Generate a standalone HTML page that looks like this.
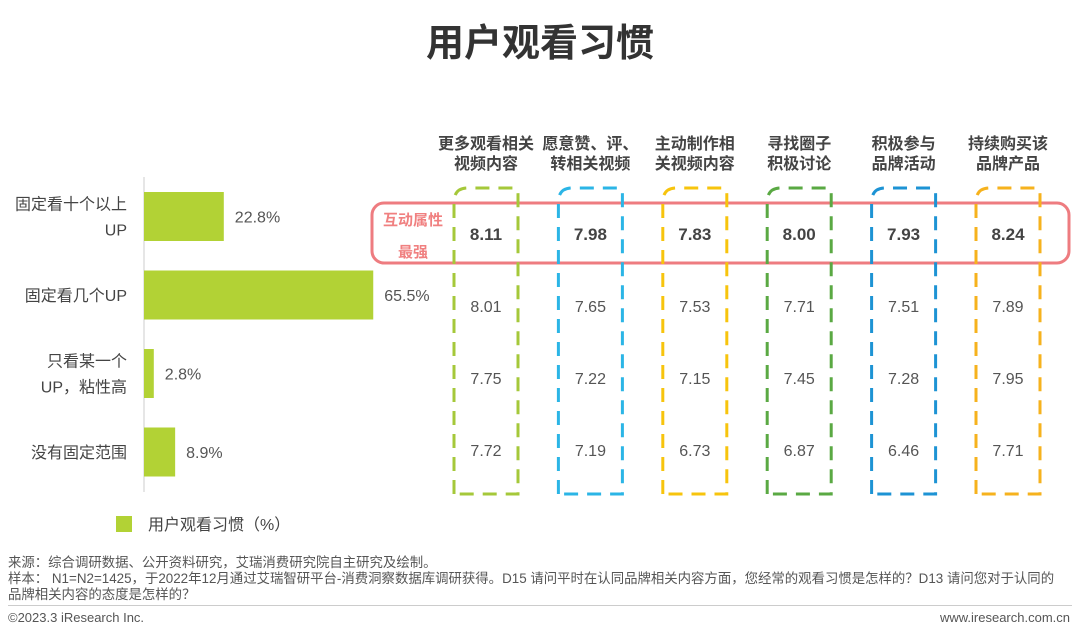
<!DOCTYPE html>
<html><head><meta charset="utf-8">
<style>
body{margin:0;width:1080px;height:640px;background:#fff;font-family:"Liberation Sans","Noto Sans CJK SC",sans-serif;overflow:hidden;position:relative}
.t{position:absolute;white-space:nowrap}
</style></head><body>
<div class="t" style="left:0;width:1080px;top:12px;text-align:center;font-size:38px;font-weight:bold;color:#333">用户观看习惯</div>
<svg id="c" width="1080" height="640" style="position:absolute;left:0;top:0"></svg>
<div class="t" style="left:8px;top:555px;font-size:13.4px;color:#555;line-height:16px">来源：综合调研数据、公开资料研究，艾瑞消费研究院自主研究及绘制。<br>样本： N1=N2=1425，于2022年12月通过艾瑞智研平台-消费洞察数据库调研获得。D15 请问平时在认同品牌相关内容方面，您经常的观看习惯是怎样的？D13 请问您对于认同的<br>品牌相关内容的态度是怎样的？</div>
<div style="position:absolute;left:8px;top:605px;width:1064px;height:1px;background:#ccc"></div>
<div class="t" style="left:8px;top:610px;font-size:13px;color:#555">©2023.3 iResearch Inc.</div>
<div class="t" style="right:10px;top:610px;font-size:13px;color:#555">www.iresearch.com.cn</div>
<script>
const cats=["固定看十个以上|UP","固定看几个UP","只看某一个|UP，粘性高","没有固定范围"];
const pcts=[22.8,65.5,2.8,8.9];
const cols=["更多观看相关|视频内容","愿意赞、评、|转相关视频","主动制作相|关视频内容","寻找圈子|积极讨论","积极参与|品牌活动","持续购买该|品牌产品"];
const row1=[8.11,7.98,7.83,8.00,7.93,8.24];
const row2=[8.01,7.65,7.53,7.71,7.51,7.89];
const row3=[7.75,7.22,7.15,7.45,7.28,7.95];
const row4=[7.72,7.19,6.73,6.87,6.46,7.71];
const colColors=["#a5c83a","#2bb5e6","#f7c40d","#5aa943","#1d93d4","#f6b21d"];
const svg=document.getElementById('c');const NS="http://www.w3.org/2000/svg";
function mk(t,a,txt){const e=document.createElementNS(NS,t);for(const k in a)e.setAttribute(k,a[k]);if(txt!=null)e.textContent=txt;svg.appendChild(e);return e;}
const x0=144,sx=3.5,rowY=i=>192+i*78.5,bh=49;
const ax=mk('line',{x1:x0,y1:177,x2:x0,y2:492,stroke:'#ccc','stroke-width':1});

pcts.forEach((v,i)=>{
 const r=mk('rect',{x:x0,y:rowY(i),width:v*sx,height:bh,fill:'#b2d235'});
 
 const l=mk('text',{x:x0+v*sx+11,y:rowY(i)+bh/2+6,'font-size':16,fill:'#555'},v.toFixed(1)+'%');
 
 const parts=cats[i].split('|');
 parts.forEach((p,j)=>{const t=mk('text',{x:127,y:rowY(i)+bh/2+6+(j-(parts.length-1)/2)*26,'text-anchor':'end','font-size':16,fill:'#444'},p);
 });
});
const lg=mk('rect',{x:116,y:516,width:16,height:16,fill:'#b2d235'});

const lt=mk('text',{x:148,y:530,'font-size':16,fill:'#444'},'用户观看习惯（%）');

const hl=mk('rect',{x:372,y:203,width:697,height:60,rx:12,fill:'none',stroke:'#ee7c80','stroke-width':3});

[['互动属性',225],['最强',257]].forEach(([s,y])=>{const t=mk('text',{x:413,y:y,'text-anchor':'middle','font-size':15,'font-weight':'bold',fill:'#f08080'},s);
});
const colX=i=>486+i*104.4, rows=[row1,row2,row3,row4], vy=[240,312,384,456];
cols.forEach((c,i)=>{
 const cx=colX(i),l=cx-32,r=cx+32;
 const p=mk('path',{d:`M${l},494 L${l},202 Q${l},188 ${l+14},188 L${r-4},188 Q${r},188 ${r},194 L${r},494 Z`,fill:'none',stroke:colColors[i],'stroke-width':3,'stroke-dasharray':'14,9'});
 
 c.split('|').forEach((s,j)=>{const t=mk('text',{x:cx,y:149+j*20,'text-anchor':'middle','font-size':16,'font-weight':'bold',fill:'#444'},s);
 });
 rows.forEach((rw,k)=>{const t=mk('text',{x:cx,y:vy[k],'text-anchor':'middle','font-size':k==0?17:16,'font-weight':k==0?'bold':'normal',fill:k==0?'#444':'#555'},rw[i].toFixed(2));
 });
});
</script>
</body></html>
